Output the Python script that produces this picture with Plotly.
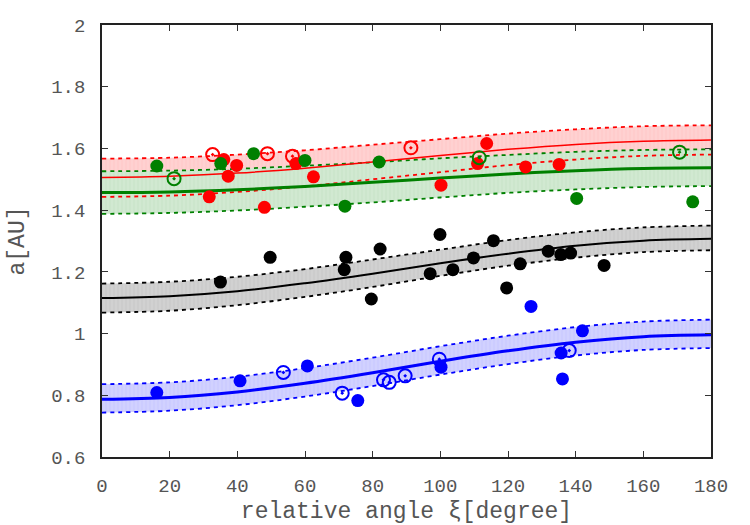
import plotly.graph_objects as go

# curve sample angles
xi = [0, 20, 40, 60, 80, 100, 120, 140, 160, 180]

red_mid = [1.506, 1.510, 1.520, 1.536, 1.556, 1.577, 1.597, 1.613, 1.623, 1.627]
red_up = [1.567, 1.570, 1.580, 1.594, 1.612, 1.630, 1.648, 1.662, 1.672, 1.675]
red_lo = [1.443, 1.447, 1.459, 1.477, 1.500, 1.523, 1.546, 1.564, 1.576, 1.580]
green_mid = [1.457, 1.459, 1.466, 1.477, 1.490, 1.504, 1.517, 1.528, 1.535, 1.537]
green_up = [1.526, 1.528, 1.534, 1.544, 1.555, 1.568, 1.579, 1.589, 1.595, 1.597]
green_lo = [1.388, 1.391, 1.399, 1.411, 1.425, 1.441, 1.456, 1.467, 1.475, 1.478]
black_mid = [1.115, 1.121, 1.137, 1.163, 1.194, 1.228, 1.259, 1.285, 1.301, 1.307]
black_up = [1.162, 1.168, 1.184, 1.209, 1.240, 1.272, 1.303, 1.328, 1.344, 1.350]
black_lo = [1.068, 1.074, 1.092, 1.119, 1.151, 1.187, 1.220, 1.246, 1.264, 1.270]
blue_mid = [0.787, 0.793, 0.811, 0.839, 0.873, 0.910, 0.944, 0.972, 0.990, 0.996]
blue_up = [0.836, 0.842, 0.860, 0.888, 0.922, 0.959, 0.993, 1.021, 1.039, 1.045]
blue_lo = [0.744, 0.750, 0.768, 0.796, 0.830, 0.867, 0.901, 0.929, 0.947, 0.953]

# data points
red_fx = [31.7, 36.0, 37.3, 39.8, 48.0, 57.3, 62.5, 100.2, 111.0, 113.7, 125.2, 135.1]
red_fy = [1.443, 1.564, 1.510, 1.545, 1.409, 1.551, 1.508, 1.481, 1.551, 1.616, 1.540, 1.548]
red_ox = [32.7, 48.9, 56.3, 91.3]
red_oy = [1.580, 1.583, 1.575, 1.602]

green_fx = [16.2, 35.1, 44.8, 60.0, 71.8, 81.9, 140.3, 174.6]
green_fy = [1.543, 1.551, 1.583, 1.561, 1.413, 1.556, 1.438, 1.427]
green_ox = [21.3, 111.5, 170.7]
green_oy = [1.502, 1.570, 1.588]

black_fx = [35.0, 49.7, 72.1, 71.6, 79.6, 82.2, 99.9, 97.0, 103.7, 109.8, 115.7, 119.6,
            123.6, 131.9, 135.6, 138.5, 148.4]
black_fy = [1.167, 1.247, 1.247, 1.207, 1.112, 1.274, 1.321, 1.194, 1.207, 1.245, 1.301, 1.148,
            1.226, 1.267, 1.256, 1.261, 1.221]

blue_fx = [16.2, 40.8, 60.7, 75.6, 100.2, 126.8, 135.7, 136.1, 142.0]
blue_fy = [0.809, 0.847, 0.895, 0.783, 0.891, 1.088, 0.937, 0.853, 1.009]
blue_ox = [53.6, 71.0, 83.2, 84.9, 89.6, 99.7, 138.1]
blue_oy = [0.874, 0.807, 0.850, 0.842, 0.863, 0.917, 0.945]

fig = go.Figure()

bands = [
    (red_up, red_lo, "#ffcccc"),
    (green_up, green_lo, "#cce6cc"),
    (black_up, black_lo, "#cccccc"),
    (blue_up, blue_lo, "#ccccff"),
]
for up, lo, col in bands:
    fig.add_trace(go.Scatter(x=xi, y=lo, mode="lines", line=dict(width=0, shape="spline"),
                             hoverinfo="skip", showlegend=False))
    fig.add_trace(go.Scatter(
        x=xi, y=up, mode="lines", line=dict(width=0, shape="spline"),
        fill="tonexty", fillcolor=col,
        fillpattern=dict(shape="|", bgcolor=col, fgcolor="rgba(255,255,255,0.5)", size=4, solidity=0.2),
        hoverinfo="skip", showlegend=False))

lines = [
    (red_mid, "#ff0000", 1.5), (green_mid, "#008000", 3), (black_mid, "#000000", 2), (blue_mid, "#0000ff", 3),
]
dashed = [
    (red_up, "#ff0000"), (red_lo, "#ff0000"), (green_up, "#008000"), (green_lo, "#008000"),
    (black_up, "#000000"), (black_lo, "#000000"), (blue_up, "#0000ff"), (blue_lo, "#0000ff"),
]
for y, col in dashed:
    fig.add_trace(go.Scatter(x=xi, y=y, mode="lines",
                             line=dict(color=col, width=1.8, dash="4px,4px", shape="spline"),
                             showlegend=False))
for y, col, w in lines:
    fig.add_trace(go.Scatter(x=xi, y=y, mode="lines",
                             line=dict(color=col, width=w, shape="spline"), showlegend=False))

def filled(x, y, col):
    fig.add_trace(go.Scatter(x=x, y=y, mode="markers",
                             marker=dict(symbol="circle", size=13, color=col, line=dict(width=0)),
                             showlegend=False))

def opened(x, y, col):
    fig.add_trace(go.Scatter(x=x, y=y, mode="markers",
                             marker=dict(symbol="circle-open-dot", size=13, color=col, line=dict(width=2, color=col)),
                             showlegend=False))

filled(red_fx, red_fy, "#ff0000")
opened(red_ox, red_oy, "#ff0000")
filled(green_fx, green_fy, "#008000")
opened(green_ox, green_oy, "#008000")
filled(black_fx, black_fy, "#000000")
filled(blue_fx, blue_fy, "#0000ff")
opened(blue_ox, blue_oy, "#0000ff")

font = dict(family="Liberation Mono, DejaVu Sans Mono, monospace", size=19, color="#555555")
fig.update_layout(
    width=750, height=525,
    margin=dict(l=102, r=39, t=25, b=68),
    plot_bgcolor="white", paper_bgcolor="white",
    font=font,
    xaxis=dict(range=[0, 180], tickvals=[0, 20, 40, 60, 80, 100, 120, 140, 160, 180],
               ticks="inside", ticklen=6, tickcolor="#333", showgrid=False, zeroline=False,
               showline=True, linecolor="#222", linewidth=1.5, mirror="ticks",
               ticklabelstandoff=10, automargin=False,
               title=dict(text="relative angle ξ[degree]", standoff=8)),
    yaxis=dict(range=[0.6, 2], tickvals=[0.6, 0.8, 1.0, 1.2, 1.4, 1.6, 1.8, 2.0],
               ticktext=["0.6", "0.8", "1", "1.2", "1.4", "1.6", "1.8", "2"],
               ticks="inside", ticklen=6, tickcolor="#333", showgrid=False, zeroline=False,
               showline=True, linecolor="#222", linewidth=1.5, mirror="ticks",
               ticklabelstandoff=11, automargin=False,
               title=dict(text="a[AU]", standoff=20)),
)

fig.write_html("out.html")
